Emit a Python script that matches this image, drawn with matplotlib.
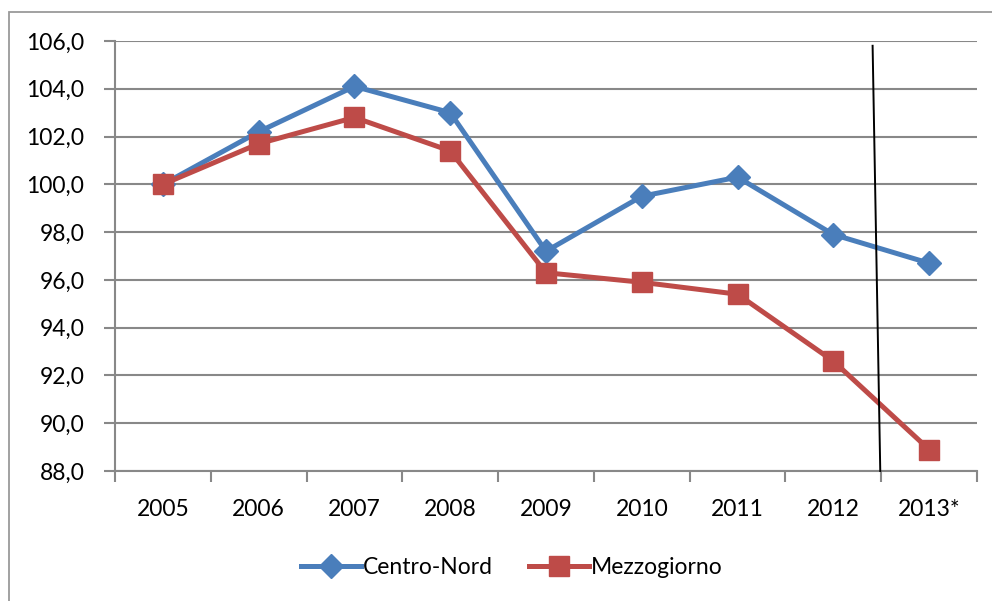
import matplotlib
matplotlib.use("Agg")
import matplotlib.pyplot as plt
from matplotlib.patches import Rectangle
from matplotlib.ticker import FixedLocator, FuncFormatter

plt.rcParams['font.family'] = ['Lato', 'DejaVu Sans']

years = ["2005", "2006", "2007", "2008", "2009", "2010", "2011", "2012", "2013*"]
centro_nord = [100.0, 102.2, 104.1, 103.0, 97.2, 99.5, 100.3, 97.9, 96.7]
mezzogiorno = [100.0, 101.7, 102.8, 101.4, 96.3, 95.9, 95.4, 92.6, 88.9]
y_ticks = [88, 90, 92, 94, 96, 98, 100, 102, 104, 106]

blue = "#4A7EBB"
red = "#BE4B48"
grid = "#888888"

fig = plt.figure(figsize=(9.92, 6.01), dpi=100)
W, H = 992, 601
# outer chart border
fig.patches.append(Rectangle((9 / W, -0.1), 1.2, 1 - 12 / H + 0.1,
                             transform=fig.transFigure, fill=False,
                             edgecolor="#9a9a9a", linewidth=1.3))

ax = fig.add_axes([115 / W, 1 - 471 / H, (977 - 115) / W, (471 - 41) / H])
x = list(range(len(years)))

ax.plot(x, centro_nord, color=blue, lw=3.6, marker="D", ms=12, label="Centro-Nord", zorder=3)
ax.plot(x, mezzogiorno, color=red, lw=3.6, marker="s", ms=14.5, label="Mezzogiorno", zorder=3)

ax.set_xlim(-0.5, len(years) - 0.5)
ax.set_ylim(88, 106)
ax.set_yticks(y_ticks)
ax.yaxis.set_major_formatter(FuncFormatter(lambda v, p: f"{v:.1f}".replace(".", ",")))
ax.yaxis.grid(True, color=grid, lw=1.5)
ax.set_axisbelow(True)

ax.set_xticks(x)
ax.set_xticklabels(years)
ax.xaxis.set_minor_locator(FixedLocator([i - 0.5 for i in range(len(years) + 1)]))
ax.tick_params(axis="x", which="major", length=0, pad=20, labelsize=16.5)
ax.tick_params(axis="x", which="minor", length=8, width=1.5, color=grid, direction="out")
ax.tick_params(axis="y", length=8, width=1.5, color=grid, direction="out", pad=14, labelsize=16.5)

for s in ["top", "right"]:
    ax.spines[s].set_visible(False)
for s in ["left", "bottom"]:
    ax.spines[s].set_color(grid)
    ax.spines[s].set_linewidth(1.5)

# vertical separator line (forecast marker)
ax.plot([7.41, 7.49], [105.8, 88], color="black", lw=1.4, zorder=4, clip_on=False)

leg = fig.legend(loc="center", bbox_to_anchor=(512 / W, 1 - 568 / H), ncol=2,
                 frameon=False, fontsize=16.5, handlelength=2.6, columnspacing=1.6,
                 handletextpad=0.1)

fig.savefig("out.png", dpi=100)
